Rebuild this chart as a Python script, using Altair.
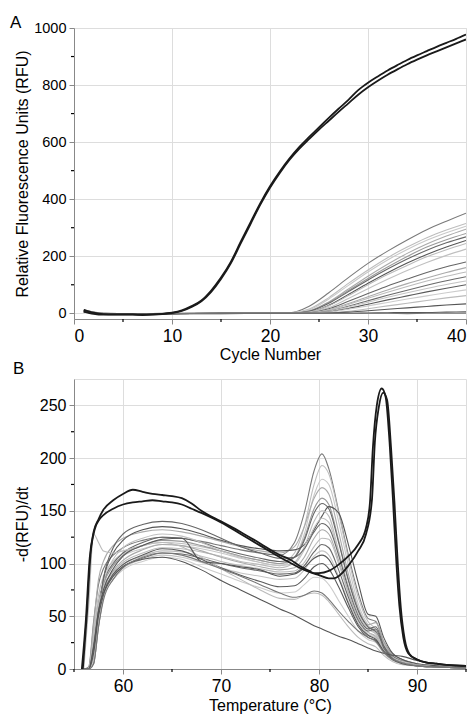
import altair as alt
import pandas as pd

# ---------------- Panel A : amplification curves ----------------
A_CYCLES = list(range(1, 41))
A_BLACK_1 = [12, 2, -3, -4, -4, -4, -5, -4, -2, 2, 10, 25, 45, 80, 125, 180, 250, 318, 385, 445,
             497, 543, 583, 618, 652, 685, 717, 748, 782, 808, 830, 851, 870, 888, 904, 919, 934, 948, 962, 977]
A_BLACK_2 = [6, -2, -5, -5, -5, -5, -6, -5, -3, 1, 8, 22, 42, 75, 120, 175, 244, 312, 380, 440,
             492, 538, 577, 611, 644, 675, 706, 736, 766, 792, 815, 836, 855, 873, 889, 904, 918, 932, 946, 960]

A_GRAY_CYCLES = [1, 3, 6, 10, 15, 20, 22, 24, 26, 28, 30, 32, 34, 36, 38, 40]
A_GRAY_NAMES = ["a1", "a2", "a3", "a4", "a5", "a6", "a7", "a8", "a9", "a10",
                "a11", "a12", "a13", "a14", "a15", "a16", "a17", "a18", "a19", "a20"]
A_GRAY_COLORS = ["#7a7a7a", "#bdbdbd", "#c8c8c8", "#aaaaaa", "#9a9a9a", "#666666", "#555555", "#bbbbbb",
                 "#c0c0c0", "#666666", "#aaaaaa", "#bbbbbb", "#6a6a6a", "#c4c4c4", "#5a5a5a", "#cccccc",
                 "#bbbbbb", "#555555", "#555555", "#777777"]
A_GRAY_VALUES = [
    [12, 0, -2, -1, 0, 1, 2, 25, 72, 125, 175, 218, 257, 293, 323, 351],
    [8, -1, -2, -1, 0, 0, 1, 15, 55, 105, 152, 195, 232, 265, 292, 315],
    [10, 0, -1, 0, 0, 0, 1, 12, 50, 98, 145, 187, 224, 256, 282, 305],
    [6, -2, -2, -1, -1, 0, 0, 8, 40, 85, 130, 172, 210, 243, 271, 295],
    [9, 0, -1, 0, 0, 0, 0, 8, 38, 80, 122, 162, 199, 232, 258, 280],
    [5, -1, -2, -1, 0, 0, 0, 7, 35, 76, 117, 155, 190, 221, 247, 268],
    [7, -2, -3, -1, 0, 0, 0, 4, 28, 66, 105, 142, 176, 206, 232, 255],
    [11, 0, -1, 0, 0, 0, 0, 4, 26, 62, 100, 136, 168, 198, 223, 245],
    [6, -1, -2, -1, 0, 0, 0, 2, 20, 52, 86, 119, 150, 178, 203, 225],
    [8, 0, -2, -1, -1, 0, 0, 2, 16, 42, 69, 96, 120, 143, 163, 180],
    [4, -2, -3, -1, 0, 0, 0, 1, 12, 34, 58, 82, 104, 124, 143, 160],
    [7, 0, -1, 0, 0, 0, 0, 1, 11, 31, 53, 74, 94, 113, 130, 145],
    [9, -1, -2, -1, 0, 0, 0, 0, 8, 25, 44, 63, 81, 98, 114, 128],
    [5, -1, -2, 0, 0, 0, 0, 0, 7, 22, 39, 56, 72, 87, 101, 113],
    [8, -1, -3, -1, 0, 0, 0, 0, 5, 17, 32, 47, 61, 75, 88, 100],
    [6, 0, -1, 0, 0, 0, 0, 0, 4, 14, 26, 38, 50, 61, 72, 82],
    [10, -1, -2, -1, 0, 0, 0, 0, 1, 7, 16, 26, 35, 45, 54, 62],
    [7, -2, -3, -1, 0, 0, 0, 0, 1, 4, 9, 14, 19, 24, 29, 33],
    [5, -1, -2, -1, 0, 0, 0, 0, 0, 0, 1, 2, 3, 3, 4, 5],
    [8, -1, -2, -1, 0, 0, 0, 0, 0, 0, 0, 0, -1, 0, 0, 0],
]
A_X_TICKS = [0, 10, 20, 30, 40]
A_X_MINOR = [5, 15, 25, 35]
A_Y_TICKS = [0, 200, 400, 600, 800, 1000]
A_Y_MINOR = [100, 300, 500, 700, 900]

# ---------------- Panel B : melt curves ----------------
B_BLACK_1_T = [55.8, 56.2, 56.6, 57.0, 57.5, 58, 59, 60, 61, 62, 63, 64, 65, 66, 67, 68, 70, 72, 74, 76,
               77, 78, 79, 79.5, 80, 81, 82, 83, 84, 84.8, 85.2, 85.5, 85.9, 86.4, 86.8, 87.2, 87.55, 87.9,
               88.2, 88.6, 89.1, 90, 91, 92, 93, 95]
B_BLACK_1_V = [0, 45, 105, 130, 142, 151, 160, 166, 170, 168, 166, 165, 164, 162, 157, 150, 140, 130, 119, 108,
               104, 98, 93, 91, 91, 93, 99, 107, 118, 134, 158, 210, 250, 266, 258, 215, 160, 100,
               60, 30, 15, 9, 6, 5, 4, 3]
B_BLACK_2_T = [55.9, 56.3, 56.7, 57.1, 57.6, 58, 59, 60, 61, 62, 63, 64, 65, 66, 67, 68, 70, 72, 74, 76,
               77, 78, 79, 80, 81, 81.5, 82, 83, 84, 84.8, 85.4, 85.7, 86.1, 86.55, 86.95, 87.35, 87.7, 88.05,
               88.35, 88.75, 89.25, 90, 91, 92, 93, 95]
B_BLACK_2_V = [0, 50, 110, 132, 142, 146, 152, 156, 158, 159, 160, 159, 158, 156, 152, 148, 139, 128, 117, 106,
               101, 96, 92, 89, 86, 86, 88, 98, 112, 128, 160, 215, 248, 262, 255, 210, 158, 98,
               58, 28, 14, 9, 6, 5, 4, 3]

B_GRAY_T = [56, 56.5, 57, 57.5, 58, 59, 60, 62, 64, 66, 68, 70, 72, 74, 76, 77.5, 78.5, 79.5, 80.3, 81,
            82, 83, 84, 85, 85.8, 86.6, 87.5, 88.5, 90, 92, 95]
B_GRAY_NAMES = ["g1", "g2", "g3", "g4", "g5", "g6", "g7", "g8", "g9", "g10",
                "g11", "g12", "g13", "g14", "g15", "g16", "g17", "g18", "g19", "g20"]
B_GRAY_COLORS = ["#c8c8c8", "#6e6e6e", "#8a8a8a", "#b8b8b8", "#9a9a9a", "#777777", "#cccccc", "#888888",
                 "#7a7a7a", "#aaaaaa", "#999999", "#858585", "#bbbbbb", "#c2c2c2", "#959595", "#b5b5b5",
                 "#c0c0c0", "#a0a0a0", "#888888", "#b0b0b0"]
B_GRAY_VALUES = [
    [0, 2, 45, 80, 95, 108, 115, 122, 125, 124, 121, 117, 113, 110, 108, 120, 148, 188, 204, 190, 150, 108, 72, 48, 45, 26, 14, 9, 5, 3, 1],
    [0, 0, 35, 70, 88, 102, 110, 117, 120, 119, 116, 112, 107, 103, 100, 110, 135, 175, 193, 185, 148, 105, 68, 45, 38, 24, 13, 8, 5, 3, 1],
    [0, 0, 30, 65, 82, 98, 107, 114, 118, 117, 114, 110, 105, 101, 98, 106, 128, 165, 180, 175, 140, 98, 62, 42, 36, 22, 12, 8, 5, 3, 1],
    [0, 1, 42, 85, 102, 117, 124, 130, 132, 130, 126, 121, 116, 112, 110, 116, 135, 162, 172, 166, 130, 90, 58, 42, 44, 26, 13, 8, 5, 3, 1],
    [0, 0, 25, 62, 80, 98, 108, 117, 122, 121, 117, 112, 107, 103, 100, 106, 124, 152, 162, 156, 122, 85, 56, 40, 36, 22, 12, 8, 4, 2, 1],
    [0, 0, 22, 60, 82, 100, 110, 120, 125, 124, 120, 114, 109, 105, 102, 106, 122, 148, 157, 152, 120, 84, 55, 40, 35, 21, 12, 7, 4, 2, 1],
    [0, 0, 10, 55, 85, 110, 122, 132, 135, 133, 128, 122, 117, 114, 112, 113, 118, 132, 145, 154, 148, 118, 82, 52, 50, 30, 15, 9, 5, 3, 1],
    [0, 0, 30, 62, 78, 92, 101, 110, 115, 114, 111, 107, 102, 99, 96, 101, 116, 140, 150, 145, 112, 78, 52, 38, 33, 20, 11, 7, 4, 2, 1],
    [0, 0, 18, 58, 82, 104, 115, 124, 128, 126, 120, 112, 106, 101, 98, 100, 113, 134, 143, 139, 110, 78, 52, 38, 34, 20, 11, 7, 4, 2, 1],
    [0, 0, 8, 50, 85, 115, 128, 137, 140, 138, 132, 124, 116, 110, 105, 106, 114, 130, 138, 134, 108, 76, 50, 38, 40, 22, 10, 6, 4, 2, 1],
    [0, 0, 20, 55, 75, 93, 103, 113, 118, 117, 112, 106, 101, 97, 94, 96, 106, 124, 132, 128, 103, 73, 48, 35, 31, 18, 10, 6, 4, 2, 1],
    [0, 0, 28, 60, 75, 90, 99, 107, 112, 111, 107, 102, 98, 95, 92, 93, 101, 116, 124, 123, 100, 72, 48, 35, 30, 18, 10, 6, 3, 2, 1],
    [0, 0, 5, 40, 68, 88, 97, 105, 110, 109, 105, 100, 96, 93, 90, 91, 98, 111, 118, 115, 94, 68, 46, 36, 38, 20, 10, 6, 3, 2, 1],
    [0, 0, 12, 48, 70, 88, 96, 104, 108, 106, 101, 96, 91, 88, 85, 86, 94, 107, 112, 108, 88, 64, 44, 33, 29, 17, 9, 6, 3, 2, 1],
    [0, 0, 22, 55, 72, 90, 99, 108, 114, 112, 104, 96, 89, 83, 78, 79, 86, 97, 100, 95, 78, 58, 40, 30, 27, 16, 9, 5, 3, 2, 1],
    [0, 0, 8, 45, 68, 85, 94, 102, 106, 104, 97, 90, 83, 77, 72, 73, 80, 87, 86, 80, 65, 50, 36, 28, 25, 15, 8, 5, 3, 2, 1],
    [0, 60, 128, 120, 112, 110, 112, 117, 120, 116, 106, 95, 85, 75, 67, 66, 70, 72, 70, 64, 52, 40, 30, 24, 21, 13, 7, 4, 3, 2, 1],
    [0, 0, 20, 55, 75, 95, 107, 117, 123, 124, 102, 100, 97, 94, 88, 90, 96, 105, 108, 104, 86, 62, 42, 32, 28, 17, 9, 5, 3, 2, 1],
    [0, 0, 15, 50, 70, 88, 97, 104, 106, 102, 94, 84, 75, 66, 57, 51, 46, 41, 38, 35, 31, 28, 24, 20, 17, 15, 13, 12, 8, 5, 2],
    [0, 0, 5, 40, 65, 85, 96, 106, 110, 108, 102, 95, 88, 80, 72, 68, 70, 74, 72, 66, 55, 45, 36, 30, 26, 16, 9, 6, 3, 2, 1],
]
B_X_TICKS = [60, 70, 80, 90]
B_X_MINOR = [55, 65, 75, 85, 95]
B_Y_TICKS = [0, 50, 100, 150, 200, 250]
B_Y_MINOR = [25, 75, 125, 175, 225]

# ---------------- build tables ----------------
dfA_black = pd.DataFrame({
    "series": ["k1"] * len(A_CYCLES) + ["k2"] * len(A_CYCLES),
    "cycle": A_CYCLES + A_CYCLES,
    "rfu": A_BLACK_1 + A_BLACK_2,
})
rows = []
for name, vals in zip(A_GRAY_NAMES, A_GRAY_VALUES):
    for c, v in zip(A_GRAY_CYCLES, vals):
        rows.append({"series": name, "cycle": c, "rfu": v})
dfA_gray = pd.DataFrame(rows)
dfA_minor_y = pd.DataFrame({"rfu": A_Y_MINOR})
dfA_minor_x = pd.DataFrame({"cycle": A_X_MINOR})

dfB_black = pd.DataFrame({
    "series": ["k1"] * len(B_BLACK_1_T) + ["k2"] * len(B_BLACK_2_T),
    "temp": B_BLACK_1_T + B_BLACK_2_T,
    "d": B_BLACK_1_V + B_BLACK_2_V,
})
rows = []
for name, vals in zip(B_GRAY_NAMES, B_GRAY_VALUES):
    for t, v in zip(B_GRAY_T, vals):
        rows.append({"series": name, "temp": t, "d": v})
dfB_gray = pd.DataFrame(rows)
dfB_minor_y = pd.DataFrame({"d": B_Y_MINOR})
dfB_minor_x = pd.DataFrame({"temp": B_X_MINOR})

FONT = "Liberation Sans"
W = 392
HA = 291
HB = 290

# ---------------- Panel A ----------------
xA_scale = alt.Scale(domain=[0, 40], nice=False, zero=False)
yA_scale = alt.Scale(domain=[-20, 1000], nice=False, zero=False)
xA_axis = alt.Axis(values=A_X_TICKS, title="Cycle Number", labelFontSize=17.5, titleFontSize=16,
                   titleFontWeight="normal", labelPadding=3, titlePadding=2, format="d")
yA_axis = alt.Axis(values=A_Y_TICKS, title="Relative Fluorescence Units (RFU)", labelFontSize=14.5,
                   titleFontSize=16, titleFontWeight="normal", labelPadding=3, titlePadding=3, format="d")
xA = alt.X("cycle:Q", scale=xA_scale, axis=xA_axis)
yA = alt.Y("rfu:Q", scale=yA_scale, axis=yA_axis)

a_gray = alt.Chart(dfA_gray).mark_line(strokeWidth=1.1, interpolate="monotone", clip=True).encode(
    x=xA, y=yA,
    color=alt.Color("series:N", scale=alt.Scale(domain=A_GRAY_NAMES, range=A_GRAY_COLORS), legend=None),
)
a_black = alt.Chart(dfA_black).mark_line(strokeWidth=1.8, color="#1a1a1a", interpolate="monotone", clip=True).encode(
    x=xA, y=yA, detail="series:N",
)
a_minor_y = alt.Chart(dfA_minor_y).mark_rule(color="black", strokeWidth=1.2).encode(
    y=yA, x=alt.value(-3), x2=alt.value(0))
a_minor_x = alt.Chart(dfA_minor_x).mark_rule(color="black", strokeWidth=1.2).encode(
    x=xA, y=alt.value(HA), y2=alt.value(HA + 3))
a_label = alt.Chart(pd.DataFrame({"t": ["A"]})).mark_text(
    fontSize=17, font=FONT, align="left", baseline="alphabetic", color="black").encode(
    text="t:N", x=alt.value(-64), y=alt.value(0))
b_label = alt.Chart(pd.DataFrame({"t": ["B"]})).mark_text(
    fontSize=17, font=FONT, align="left", baseline="alphabetic", color="black").encode(
    text="t:N", x=alt.value(-61), y=alt.value(346))

panelA = alt.layer(a_gray, a_black, a_minor_y, a_minor_x, a_label, b_label).properties(width=W, height=HA)

# ---------------- Panel B ----------------
xB_scale = alt.Scale(domain=[55, 95], nice=False, zero=False)
yB_scale = alt.Scale(domain=[0, 275], nice=False, zero=False)
xB_axis = alt.Axis(values=B_X_TICKS, title="Temperature (°C)", labelFontSize=17.5, titleFontSize=16,
                   titleFontWeight="normal", labelPadding=3, titlePadding=3, format="d")
yB_axis = alt.Axis(values=B_Y_TICKS, title="-d(RFU)/dt", labelFontSize=16, titleFontSize=16,
                   titleFontWeight="normal", labelPadding=3, titlePadding=9, format="d")
xB = alt.X("temp:Q", scale=xB_scale, axis=xB_axis)
yB = alt.Y("d:Q", scale=yB_scale, axis=yB_axis)

b_gray = alt.Chart(dfB_gray).mark_line(strokeWidth=1.1, interpolate="monotone", clip=True).encode(
    x=xB, y=yB,
    color=alt.Color("series:N", scale=alt.Scale(domain=B_GRAY_NAMES, range=B_GRAY_COLORS), legend=None),
)
b_black = alt.Chart(dfB_black).mark_line(strokeWidth=1.8, color="#1a1a1a", interpolate="monotone", clip=True).encode(
    x=xB, y=yB, detail="series:N",
)
b_minor_y = alt.Chart(dfB_minor_y).mark_rule(color="black", strokeWidth=1.2).encode(
    y=yB, x=alt.value(-3), x2=alt.value(0))
b_minor_x = alt.Chart(dfB_minor_x).mark_rule(color="black", strokeWidth=1.2).encode(
    x=xB, y=alt.value(HB), y2=alt.value(HB + 3))

panelB = alt.layer(b_gray, b_black, b_minor_y, b_minor_x).properties(width=W, height=HB)

chart = alt.vconcat(panelA, panelB, spacing=0).properties(
    padding={"left": 1, "top": 5, "right": 0, "bottom": 0}
).configure_view(
    stroke="#555555", strokeWidth=1
).configure_axis(
    domainColor="black", tickColor="black", labelColor="#1a1a1a", titleColor="#1a1a1a",
    labelFont=FONT, titleFont=FONT, titleFontWeight="normal", grid=False, tickSize=5,
    domainWidth=1.2, tickWidth=1.2,
).configure(background="white")

chart.save("out.html", embed_options={"renderer": "svg", "actions": False})
